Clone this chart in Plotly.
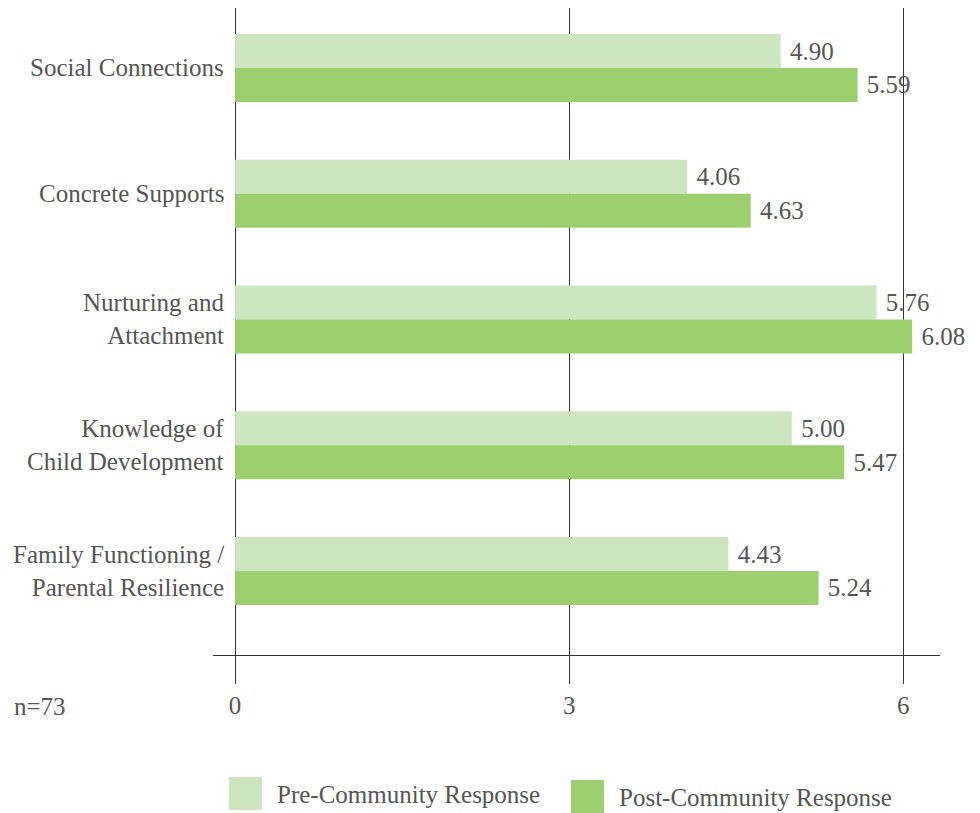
import plotly.graph_objects as go

categories = ["Social Connections", "Concrete Supports", "Nurturing and<br>Attachment",
              "Knowledge of<br>Child Development", "Family Functioning /<br>Parental Resilience"]
pre_values = [4.90, 4.06, 5.76, 5.00, 4.43]
post_values = [5.59, 4.63, 6.08, 5.47, 5.24]
series_names = ["Pre-Community Response", "Post-Community Response"]
x_ticks = [0, 3, 6]
note_text = "n=73"

pre_color = "#cde6c0"
post_color = "#9ccf6e"
text_color = "#555555"
line_color = "#333333"
font_family = "Liberation Serif"
FS = 25

W, H = 980, 813
OFF = 8  # page body margin
# plot area in screen pixels: x 213..940, y 8..655
L = 213 - OFF
T = 8 - OFF
R = W - (940 - OFF)
B = H - (655 - OFF)
PW, PH = W - L - R, H - T - B


def px_x(p):
    return (p - OFF - L) / PW


def px_y(p):
    return (H - B - (p - OFF)) / PH


fig = go.Figure()
for name, vals, col in [(series_names[0], pre_values, pre_color),
                        (series_names[1], post_values, post_color)]:
    fig.add_trace(go.Bar(
        y=categories, x=vals, orientation="h", name=name,
        marker=dict(color=col, line=dict(width=0)),
        text=[" " + f"{v:.2f}" for v in vals], textposition="outside",
        textfont=dict(size=FS, color=text_color, family=font_family),
        cliponaxis=False, showlegend=False,
    ))

# category labels
for c in categories:
    fig.add_annotation(x=0, y=c, xref="x", yref="y", text=c, showarrow=False,
                       xanchor="right", yanchor="middle", align="right", xshift=-9,
                       font=dict(size=FS, color=text_color, family=font_family))

# note
fig.add_annotation(x=px_x(12), y=px_y(706), xref="paper", yref="paper", text=note_text,
                   showarrow=False, xanchor="left", yanchor="middle",
                   font=dict(size=FS, color=text_color, family=font_family))

# custom legend
legend_items = [(series_names[0], pre_color, 229, 777), (series_names[1], post_color, 571, 780)]
for name, col, lx, ly in legend_items:
    fig.add_shape(type="rect", xref="paper", yref="paper",
                  x0=px_x(lx), x1=px_x(lx + 33), y0=px_y(ly + 33), y1=px_y(ly),
                  fillcolor=col, line=dict(width=0))
    fig.add_annotation(x=px_x(lx + 46), y=px_y(ly + 17), xref="paper", yref="paper",
                       text=name, showarrow=False, xanchor="left", yanchor="middle",
                       font=dict(size=FS, color=text_color, family=font_family))

fig.update_layout(
    width=W, height=H,
    margin=dict(l=L, r=R, t=T, b=B, autoexpand=False),
    paper_bgcolor="white", plot_bgcolor="white",
    barmode="group", bargap=0.46, bargroupgap=0,
    font=dict(family=font_family, color=text_color),
    xaxis=dict(range=[-0.198, 6.33], tickvals=x_ticks, showgrid=True, gridcolor=line_color,
               gridwidth=1, zeroline=False, showline=True, linecolor=line_color, linewidth=1,
               ticks="outside", ticklen=28, tickcolor=line_color, tickwidth=1,
               tickfont=dict(size=FS, color=text_color, family=font_family)),
    yaxis=dict(range=[4.668, -0.477], showticklabels=False, showgrid=False, zeroline=False,
               showline=False, ticks=""),
)

fig.write_html("out.html")
